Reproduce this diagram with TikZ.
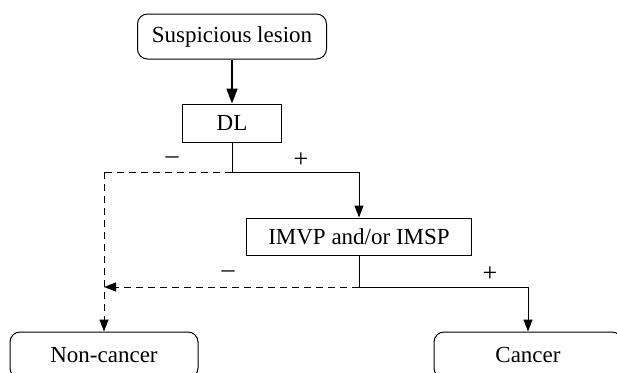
\documentclass[tikz,border=0pt]{standalone}
\usepackage{fontspec}
\setmainfont{Liberation Serif}
\usetikzlibrary{arrows.meta}

\tikzset{
  rbox/.style={draw, rounded corners=5pt, line width=0.5pt, inner sep=0pt, font=\fontsize{11.5}{13}\selectfont},
  sbox/.style={draw, line width=0.5pt, inner sep=0pt, font=\fontsize{11.5}{13}\selectfont},
  conn/.style={line width=0.5pt},
  tip/.style={-{Triangle[length=6pt,width=4.5pt]}},
  dashline/.style={dash pattern=on 3.5pt off 2.5pt},
  sign/.style={font=\fontsize{13}{15}\selectfont, inner sep=0pt}
}

\begin{document}
\begin{tikzpicture}[x=0.5pt,y=-0.5pt]
			%%%%% START %%%%%
			\useasboundingbox (0,0) rectangle (617,372);
			\clip (0,0) rectangle (617,372);

			\node[rbox, minimum width=94.5pt, minimum height=22.5pt] (lesion) at (232,36.5) {Suspicious lesion};
			\node[sbox, minimum width=49.5pt, minimum height=19pt] (dl) at (232,123) {DL};
			\node[sbox, minimum width=112.5pt, minimum height=18.5pt] (imvp) at (359,236.5) {IMVP and/or IMSP};
			\node[rbox, minimum width=94pt, minimum height=23pt] (noncancer) at (104,355) {Non-cancer};
			\node[rbox, minimum width=94pt, minimum height=23pt] (cancer) at (528,355) {Cancer};

			\coordinate (j1) at (232,172);
			\coordinate (j2) at (359,287);
			\coordinate (m1) at (104,172);

			\draw[line width=1pt, -{Triangle[length=7.5pt,width=5.5pt]}] (lesion) -- (dl);
			\draw[conn] (dl) -- (j1);
			\draw[conn, dashline] (j1) -- (m1);
			\draw[conn, dashline, tip] (m1) -- (noncancer);
			\draw[conn, tip] (j1) -| (imvp);

			\draw[conn] (imvp) -- (j2);
			\draw[conn, dashline, tip] (j2) -- (j2 -| m1);
			\draw[conn, tip] (j2) -| (cancer);

			\node[sign] (neg1) at (172,160) {–};
			\node[sign] (pos1) at (301,160) {+};
			\node[sign] (neg2) at (228,274) {–};
			\node[sign] (pos2) at (490,274) {+};
			%%%%% END %%%%%
		\end{tikzpicture}
\end{document}
